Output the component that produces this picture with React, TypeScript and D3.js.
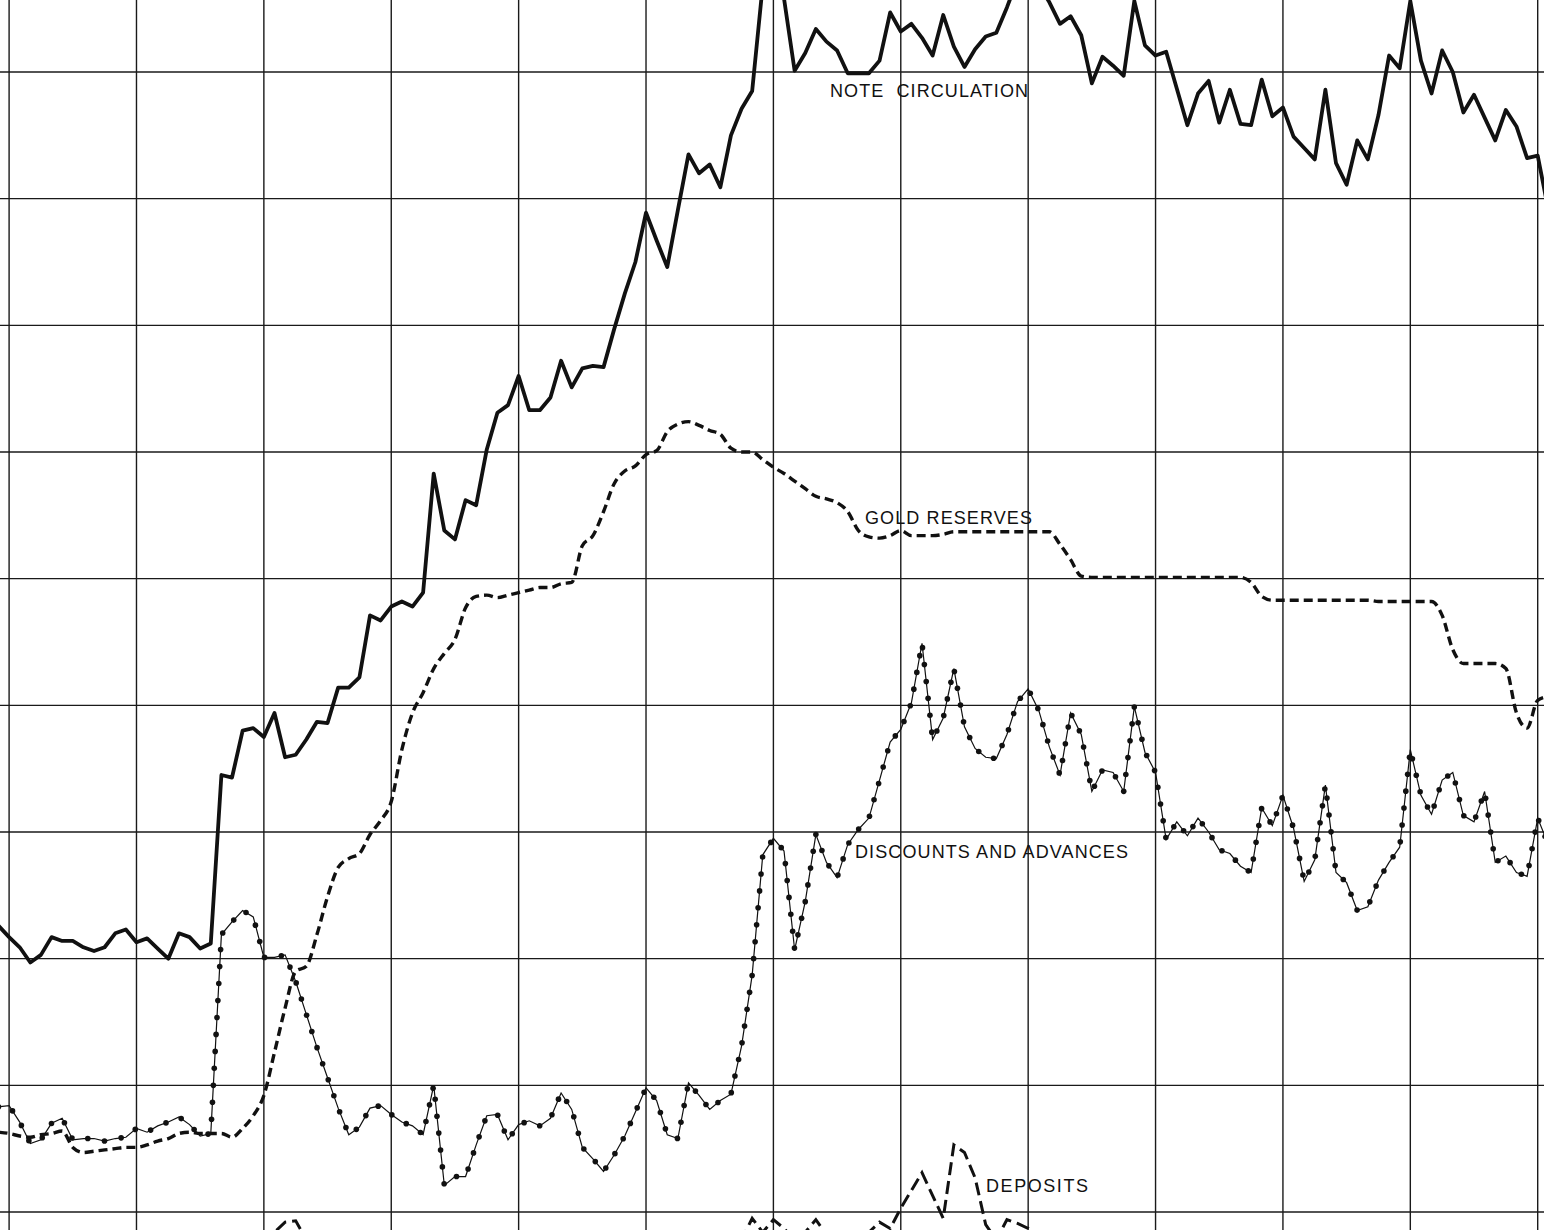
import React, { useMemo } from 'react';
import * as d3 from 'd3';

const width = 1544;
const height = 1230;

// one value per month; the first entry is the month just before the first rule
const months = d3.range(-1, 146);
const yearRules = [0, 12, 24, 36, 48, 60, 72, 84, 96, 108, 120, 132, 144];
const valueRules = [100, 200, 300, 400, 500, 600, 700, 800, 900, 1000];

const noteCirculation = [
  326,
  317, 309, 297, 303, 317, 314, 314, 309, 306, 309, 320, 323,
  313, 316, 308, 300, 320, 317, 308, 312, 445, 443, 480, 482,
  475, 494, 459, 461, 473, 487, 486, 514, 514, 522, 571, 567,
  578, 582, 578, 589, 683, 638, 631, 662, 658, 702, 731, 737,
  760, 733, 733, 743, 772, 751, 766, 768, 767, 797, 825, 850,
  889, 867, 846, 891, 935, 920, 927, 909, 950, 971, 985, 1069,
  1084, 1058, 1001, 1015, 1034, 1024, 1017, 999, 999, 999, 1009, 1047,
  1032, 1038, 1027, 1013, 1045, 1020, 1004, 1018, 1028, 1031, 1051, 1073,
  1077, 1069, 1055, 1038, 1044, 1029, 991, 1012, 1005, 997, 1056, 1021,
  1013, 1016, 987, 958, 983, 993, 960, 986, 959, 958, 994, 965,
  972, 949, 940, 931, 986, 928, 911, 946, 931, 966, 1013, 1003,
  1056, 1009, 983, 1017, 1000, 968, 982, 964, 946, 970, 957, 932,
  934, 891,
];

const goldReserves = [
  163,
  162, 160, 159, 161, 162, 164, 151, 147, 148, 149, 150, 151,
  151, 153, 156, 158, 162, 163, 162, 162, 162, 159, 166, 176,
  192, 226, 261, 290, 294, 319, 349, 372, 379, 383, 398, 409,
  424, 465, 494, 510, 529, 541, 552, 577, 586, 587, 585, 587,
  589, 591, 593, 593, 596, 597, 626, 634, 653, 675, 685, 689,
  698, 701, 716, 722, 724, 721, 717, 714, 703, 700, 700, 694,
  688, 683, 677, 671, 665, 663, 660, 653, 638, 633, 632, 634,
  638, 634, 634, 634, 635, 637, 637, 637, 637, 637, 637, 637,
  637, 637, 637, 627, 615, 602, 601, 601, 601, 601, 601, 601,
  601, 601, 601, 601, 601, 601, 601, 601, 601, 597, 586, 583,
  583, 583, 583, 583, 583, 583, 583, 583, 583, 582, 582, 582,
  582, 582, 582, 571, 544, 533, 533, 533, 533, 529, 494, 482,
  504, 507,
];

const discountsAndAdvances = [
  183,
  184, 171, 154, 157, 170, 174, 157, 158, 158, 156, 158, 159,
  166, 163, 168, 171, 175, 169, 160, 162, 319, 329, 338, 333,
  301, 301, 303, 282, 256, 230, 206, 182, 161, 167, 182, 184,
  177, 171, 168, 161, 200, 121, 128, 128, 153, 176, 177, 157,
  169, 172, 168, 174, 194, 181, 151, 142, 132, 145, 160, 179,
  198, 188, 161, 158, 202, 192, 181, 188, 193, 231, 287, 382,
  395, 385, 307, 345, 398, 376, 364, 390, 402, 411, 441, 471,
  481, 502, 549, 473, 490, 529, 483, 466, 459, 458, 477, 503,
  513, 496, 467, 445, 494, 477, 432, 449, 447, 432, 499, 463,
  447, 394, 408, 397, 411, 400, 386, 383, 373, 368, 419, 405,
  429, 403, 361, 378, 437, 368, 360, 338, 341, 362, 376, 388,
  465, 429, 414, 441, 447, 413, 408, 432, 376, 381, 368, 365,
  411, 390,
];

const deposits = [
  64,
  63, 62, 64, 66, 65, 63, 62, 64, 65, 66, 64, 63,
  65, 67, 66, 64, 65, 66, 68, 70, 72, 74, 76, 78,
  81, 84, 92, 93, 78, 70, 66, 64, 62, 63, 65, 64,
  63, 62, 64, 65, 63, 62, 61, 63, 64, 62, 61, 63,
  64, 65, 63, 62, 64, 66, 65, 63, 62, 64, 65, 66,
  64, 63, 65, 66, 64, 63, 65, 67, 70, 78, 95, 84,
  94, 87, 78, 84, 94, 82, 70, 70, 78, 84, 92, 87,
  103, 117, 131, 113, 95, 153, 147, 127, 90, 78, 94, 91,
  87, 78, 70, 66, 64, 63, 65, 64, 62, 63, 65, 66,
  64, 63, 62, 64, 65, 63, 62, 61, 63, 64, 65, 63,
  62, 64, 65, 63, 62, 61, 62, 64, 63, 65, 66, 64,
  63, 62, 64, 65, 63, 62, 64, 65, 63, 62, 61, 63,
  64, 63,
];

const labels = [
  { text: 'NOTE  CIRCULATION', x: 830, y: 97, w: 198 },
  { text: 'GOLD RESERVES', x: 865, y: 524, w: 167 },
  { text: 'DISCOUNTS AND ADVANCES', x: 855, y: 858, w: 273 },
  { text: 'DEPOSITS', x: 986, y: 1192, w: 102 },
];

const ink = '#111';

export default function App() {
  const x = d3.scaleLinear().domain([0, 144]).range([9.1, 1537.7]);
  const y = d3.scaleLinear().domain([100, 1000]).range([1212, 72]);

  const straight = d3
    .line<number>()
    .x((_, i) => x(months[i]))
    .y((d) => y(d));

  const smooth = d3
    .line<number>()
    .x((_, i) => x(months[i]))
    .y((d) => y(d))
    .curve(d3.curveMonotoneX);

  // dots laid along the discounts line at an even spacing of path length
  const dots = useMemo(() => {
    const pts = discountsAndAdvances.map((d, i) => [x(months[i]), y(d)]);
    const step = 17;
    const out: number[][] = [];
    let next = 0;
    for (let k = 1; k < pts.length; k++) {
      const [x0, y0] = pts[k - 1];
      const [x1, y1] = pts[k];
      const len = Math.hypot(x1 - x0, y1 - y0);
      let d = next;
      while (d <= len) {
        out.push([x0 + ((x1 - x0) * d) / len, y0 + ((y1 - y0) * d) / len]);
        d += step;
      }
      next = d - len;
    }
    return out;
  }, []);

  return (
    <svg
      width={width}
      height={height}
      viewBox={`0 0 ${width} ${height}`}
      style={{ position: 'absolute', left: 0, top: 0, background: '#fff' }}
    >
      <rect width={width} height={height} fill="#fff" />

      {/* grid */}
      <g stroke="#1a1a1a" strokeWidth={1.4}>
        {yearRules.map((m) => (
          <line key={'v' + m} x1={x(m)} x2={x(m)} y1={0} y2={height} />
        ))}
        {valueRules.map((v) => (
          <line key={'h' + v} x1={0} x2={width} y1={y(v)} y2={y(v)} />
        ))}
      </g>

      {/* deposits */}
      <path
        d={straight(deposits) || ''}
        fill="none"
        stroke={ink}
        strokeWidth={3}
        strokeDasharray="13,6"
      />

      {/* discounts and advances */}
      <path
        d={straight(discountsAndAdvances) || ''}
        fill="none"
        stroke={ink}
        strokeWidth={1.2}
      />
      <g fill={ink}>
        {dots.map(([cx, cy], i) => (
          <circle key={i} cx={cx} cy={cy} r={2.8} />
        ))}
      </g>

      {/* gold reserves */}
      <path
        d={smooth(goldReserves) || ''}
        fill="none"
        stroke={ink}
        strokeWidth={3.4}
        strokeDasharray="9,5"
      />

      {/* note circulation */}
      <path
        d={straight(noteCirculation) || ''}
        fill="none"
        stroke={ink}
        strokeWidth={3.8}
        strokeLinejoin="round"
      />

      <g
        fontFamily="'Liberation Sans', Arial, sans-serif"
        fontSize={18}
        fill={ink}
      >
        {labels.map((l) => (
          <text
            key={l.text}
            x={l.x}
            y={l.y}
            textLength={l.w}
            lengthAdjust="spacing"
            style={{ whiteSpace: 'pre' }}
          >
            {l.text}
          </text>
        ))}
      </g>
    </svg>
  );
}
